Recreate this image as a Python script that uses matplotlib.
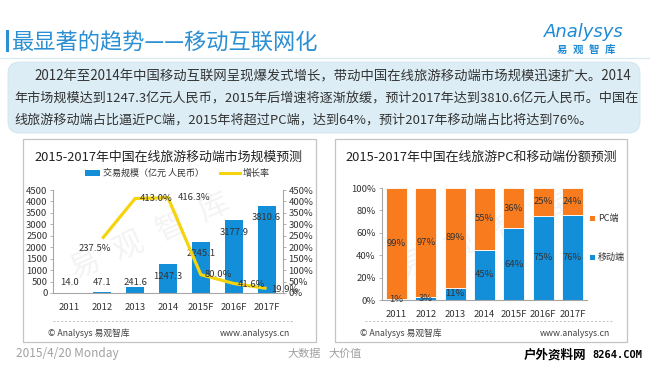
import matplotlib
matplotlib.use("Agg")
import matplotlib.pyplot as plt
from matplotlib.patches import Rectangle, FancyBboxPatch
from matplotlib.lines import Line2D
import numpy as np

plt.rcParams['font.family'] = ['Noto Sans CJK SC', 'DejaVu Sans']

# ---------------- data ----------------
years = ['2011', '2012', '2013', '2014', '2015F', '2016F', '2017F']
market_scale = [14.0, 47.1, 241.6, 1247.3, 2245.1, 3177.9, 3810.6]
growth_rate = [None, 237.5, 413.0, 416.3, 80.0, 41.6, 19.9]
mobile_share = [1, 3, 11, 45, 64, 75, 76]
pc_share = [99, 97, 89, 55, 36, 25, 24]
left_yticks = list(range(0, 4501, 500))
right_yticks = list(range(0, 451, 50))
share_yticks = list(range(0, 101, 20))

title = '最显著的趋势——移动互联网化'
summary = ['2012年至2014年中国移动互联网呈现爆发式增长，带动中国在线旅游移动端市场规模迅速扩大。2014',
           '年市场规模达到1247.3亿元人民币，2015年后增速将逐渐放缓，预计2017年达到3810.6亿元人民币。中国在',
           '线旅游移动端占比逼近PC端，2015年将超过PC端，达到64%，预计2017年移动端占比将达到76%。']
chart1_title = '2015-2017年中国在线旅游移动端市场规模预测'
chart2_title = '2015-2017年中国在线旅游PC和移动端份额预测'
bar_name = '交易规模（亿元 人民币）'
line_name = '增长率'
pc_name = 'PC端'
mobile_name = '移动端'

BLUE = '#138ed9'
ORANGE = '#f87b1e'
YELLOW = '#f5d40f'
TXT = '#333333'
AX = '#a6a6a6'

W, H = 650, 366
def fx(x): return x / W
def fy(y): return 1 - y / H

fig = plt.figure(figsize=(6.5, 3.66), dpi=100)
fig.patch.set_facecolor('white')

# ---------------- header ----------------
fig.add_artist(Rectangle((fx(6), fy(52)), 2.5 / W, 22 / H, transform=fig.transFigure,
                         facecolor='#2b8fd3', edgecolor='none'))
fig.text(fx(12), fy(42), title, fontsize=16, color='#2b8fd3', ha='left', va='center')
fig.add_artist(Line2D([0, 1], [fy(58), fy(58)], transform=fig.transFigure, color='#dcebf2', lw=1))
fig.text(fx(584), fy(32), 'Analysys', fontsize=13, color='#1e8bd4', ha='center', va='center',
         style='italic', family='DejaVu Sans')
for i, ch in enumerate('易观智库'):
    fig.text(fx(562 + i * 16), fy(50), ch, fontsize=7.5, color='#1e8bd4', ha='center', va='center',
             fontweight='bold')

# ---------------- summary box ----------------
fig.add_artist(FancyBboxPatch((fx(8), fy(133)), fx(632), (133 - 62) / H,
                              boxstyle='round,pad=0,rounding_size=0.018', mutation_aspect=W / H,
                              transform=fig.transFigure, facecolor='#dcedf5', edgecolor='#cfe4ee', lw=0.6,
                              zorder=-1))
fig.text(fx(34), fy(76), summary[0], fontsize=9.6, color=TXT, ha='left', va='center')
fig.text(fx(14), fy(98), summary[1], fontsize=9.45, color=TXT, ha='left', va='center')
fig.text(fx(14), fy(120), summary[2], fontsize=9.45, color=TXT, ha='left', va='center')

# ---------------- panels ----------------
for (x0, x1) in [(23, 316), (335, 627)]:
    fig.add_artist(Rectangle((fx(x0), fy(342)), (x1 - x0) / W, (342 - 139) / H,
                             transform=fig.transFigure, facecolor='white', edgecolor='#c4c4c4', lw=0.9,
                             zorder=-1))

def footer(xl, xr):
    fig.add_artist(Line2D([fx(xl), fx(xr)], [fy(321), fy(321)], transform=fig.transFigure,
                          color='#c0c0c0', lw=0.7, linestyle=(0, (2, 2))))
    fig.text(fx(xl - 5), fy(333), '© Analysys 易观智库', fontsize=6.3, color='#404040', ha='left', va='center')
    fig.text(fx(xr - 3), fy(333), 'www.analysys.cn', fontsize=6.3, color='#404040', ha='right', va='center')

footer(53, 293)
footer(365, 613)

# watermarks
for pts in [[(85, 265), (128, 246), (171, 227), (214, 208)],
            [(412, 265), (460, 246), (508, 227), (556, 208)]]:
    for (px, py), ch in zip(pts, '易观智库'):
        fig.text(fx(px), fy(py), ch, fontsize=22, color='#000000', alpha=0.05, rotation=24,
                 ha='center', va='center', zorder=-0.5)

# ---------------- left chart ----------------
fig.text(fx(168), fy(157), chart1_title, fontsize=9.3, color='#222222', ha='center', va='center')
fig.add_artist(Rectangle((fx(85), fy(176)), 15 / W, 6 / H, transform=fig.transFigure,
                         facecolor=BLUE, edgecolor='none'))
fig.text(fx(103), fy(173), bar_name, fontsize=6.5, color=TXT, ha='left', va='center')
fig.add_artist(Line2D([fx(220), fx(240)], [fy(173), fy(173)], transform=fig.transFigure,
                      color=YELLOW, lw=2.2))
fig.text(fx(243), fy(173), line_name, fontsize=6.5, color=TXT, ha='left', va='center')

x = np.arange(len(years))
ax1 = fig.add_axes([fx(53), fy(293), (283 - 53) / W, (293 - 190) / H])
ax1.patch.set_alpha(0)
ax1.bar(x, market_scale, width=0.55, color=BLUE, zorder=2)
ax1.set_xlim(-0.5, 6.5)
ax1.set_ylim(0, 4500)
ax1.set_yticks(left_yticks)
ax1.set_yticklabels([str(v) for v in left_yticks])
ax1.set_xticks(x)
ax1.set_xticklabels(years)
ax1.tick_params(axis='x', length=0, pad=7, labelsize=6.8, labelcolor=TXT)
ax1.tick_params(axis='y', length=2.5, width=0.6, color=AX, pad=1.5, labelsize=6.8, labelcolor=TXT)
for s in ['top', 'right']:
    ax1.spines[s].set_visible(False)
for s in ['left', 'bottom']:
    ax1.spines[s].set_color(AX)
    ax1.spines[s].set_linewidth(0.8)
for i, v in enumerate(market_scale):
    ax1.text(i, max(v - 530, 440), f'{v:.1f}', ha='center', va='center', fontsize=6.8, color=TXT, zorder=5)

ax2 = ax1.twinx()
gx = [i for i, g in enumerate(growth_rate) if g is not None]
gy = [g for g in growth_rate if g is not None]
ax2.plot(gx, gy, color=YELLOW, lw=2.3, solid_joinstyle='round', solid_capstyle='butt', zorder=3)
ax2.set_ylim(0, 450)
ax2.set_yticks(right_yticks)
ax2.set_yticklabels([f'{v}%' for v in right_yticks])
ax2.tick_params(axis='y', length=2.5, width=0.6, color=AX, pad=1.5, labelsize=6.8, labelcolor=TXT)
for s in ['top', 'left', 'bottom']:
    ax2.spines[s].set_visible(False)
ax2.spines['right'].set_color(AX)
ax2.spines['right'].set_linewidth(0.8)
offsets = {1: (-5, -7, 'center'), 2: (3, 0, 'left'), 3: (7, 0, 'left'),
           4: (3, 0, 'left'), 5: (3, -1, 'left'), 6: (3, -1, 'left')}
for i in gx:
    dx, dy, ha = offsets[i]
    ax2.annotate(f'{growth_rate[i]:.1f}%', (i, growth_rate[i]), xytext=(dx, dy),
                 textcoords='offset points', ha=ha, va='center', fontsize=6.8, color=TXT, zorder=6)

# ---------------- right chart ----------------
fig.text(fx(481), fy(157), chart2_title, fontsize=9.3, color='#222222', ha='center', va='center')
ax3 = fig.add_axes([fx(382), fy(300), (587 - 382) / W, (300 - 188) / H])
ax3.patch.set_alpha(0)
ax3.bar(x, mobile_share, width=0.72, color=BLUE, edgecolor='white', linewidth=0.6)
ax3.bar(x, pc_share, width=0.72, bottom=mobile_share, color=ORANGE, edgecolor='white', linewidth=0.6)
ax3.set_xlim(-0.5, 6.5)
ax3.set_ylim(0, 100)
ax3.set_yticks(share_yticks)
ax3.set_yticklabels([f'{v}%' for v in share_yticks])
ax3.set_xticks(x)
ax3.set_xticklabels(years)
ax3.tick_params(axis='x', length=0, pad=7, labelsize=6.8, labelcolor=TXT)
ax3.tick_params(axis='y', length=2.5, width=0.6, color=AX, pad=2, labelsize=6.8, labelcolor=TXT)
for s in ['top', 'right']:
    ax3.spines[s].set_visible(False)
for s in ['left', 'bottom']:
    ax3.spines[s].set_color(AX)
    ax3.spines[s].set_linewidth(0.8)
for i, (m, p) in enumerate(zip(mobile_share, pc_share)):
    ax3.text(i, m / 2, f'{m}%', ha='center', va='center', fontsize=6.8, color=TXT)
    ax3.text(i, m + p / 2, f'{p}%', ha='center', va='center', fontsize=6.8, color=TXT)

fig.add_artist(Rectangle((fx(590), fy(221)), 5 / W, 5 / H, transform=fig.transFigure,
                         facecolor=ORANGE, edgecolor='none'))
fig.text(fx(598), fy(218), pc_name, fontsize=6.5, color=TXT, ha='left', va='center')
fig.add_artist(Rectangle((fx(590), fy(260)), 5 / W, 5 / H, transform=fig.transFigure,
                         facecolor=BLUE, edgecolor='none'))
fig.text(fx(598), fy(257), mobile_name, fontsize=6.5, color=TXT, ha='left', va='center')

# ---------------- page footer ----------------
fig.text(fx(16), fy(354), '2015/4/20 Monday', fontsize=8.5, color='#a0a0a0', ha='left', va='center')
fig.text(fx(304), fy(354), '大数据', fontsize=8, color='#a0a0a0', ha='center', va='center')
fig.text(fx(345), fy(354), '大价值', fontsize=8, color='#a0a0a0', ha='center', va='center')
fig.text(fx(524), fy(355), '户外资料网', fontsize=9, color='black', ha='left', va='center', fontweight='bold')
fig.text(fx(642), fy(355), '8264.COM', fontsize=7.5, color='black', ha='right', va='center',
         family='DejaVu Sans Mono', fontweight='bold')

fig.savefig('out.png', dpi=100, facecolor='white')
